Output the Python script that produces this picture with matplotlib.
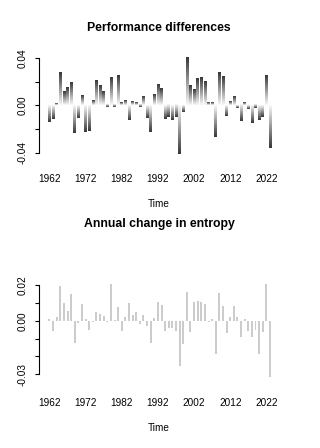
import numpy as np
import matplotlib
matplotlib.use("Agg")
import matplotlib.pyplot as plt

plt.rcParams["font.family"] = ["Liberation Sans", "DejaVu Sans"]

# ---- data ----
years = list(range(1962, 2024))

perf_diff = [
    -0.0139, -0.0116, 0.0010, 0.0272, 0.0110, 0.0150, 0.0190, -0.0230,
    -0.0105, 0.0077, -0.0221, -0.0216, 0.0034, 0.0207, 0.0162, 0.0110,
    -0.0017, 0.0230, -0.0017, 0.0250, 0.0023, 0.0034, -0.0125, 0.0030,
    0.0023, -0.0017, 0.0071, -0.0105, -0.0221, 0.0088, 0.0170, 0.0136,
    -0.0116, -0.0102, -0.0125, -0.0102, -0.0409, -0.0054, 0.0400, 0.0162,
    0.0130, 0.0221, 0.0230, 0.0199, 0.0020, 0.0023, -0.0267, 0.0272,
    0.0238, -0.0088, 0.0031, 0.0068, -0.0023, -0.0136, 0.0020, -0.0031,
    -0.0150, -0.0026, -0.0125, -0.0096, 0.0250, -0.0360,
]

entropy_change = [
    0.0010, -0.0060, 0.0019, 0.0195, 0.0097, 0.0054, 0.0152, -0.0124,
    -0.0015, 0.0094, 0.0009, -0.0050, -0.0006, 0.0050, 0.0037, 0.0028,
    -0.0005, 0.0206, 0.0002, 0.0075, -0.0056, 0.0020, 0.0099, 0.0032,
    0.0047, -0.0020, 0.0032, -0.0028, -0.0124, 0.0015, 0.0103, 0.0090,
    -0.0056, -0.0039, -0.0043, -0.0060, -0.0255, -0.0133, 0.0159, -0.0064,
    0.0105, 0.0109, 0.0105, 0.0092, -0.0007, 0.0007, -0.0185, 0.0154,
    0.0084, -0.0071, 0.0019, 0.0082, 0.0019, -0.0094, 0.0007, -0.0058,
    -0.0094, -0.0050, -0.0189, -0.0062, 0.0204, -0.0318,
]

xtick_years = [1962, 1972, 1982, 1992, 2002, 2012, 2022]

W, H = 320, 448
fig = plt.figure(figsize=(W / 100, H / 100), dpi=100)


def px_axes(left, top, right, bottom):
    return fig.add_axes([left / W, 1 - bottom / H, (right - left) / W, (bottom - top) / H])


def style_axes(ax, yticks, ylabels, ybounds, title, title_pad, tick_pad, xlab_pad):
    for s in ["top", "right", "bottom"]:
        ax.spines[s].set_visible(False)
    ax.spines["left"].set_bounds(*ybounds)
    ax.spines["left"].set_linewidth(0.8)
    ax.set_xlim(1959.1, 2025.5)
    ax.set_xticks(xtick_years)
    ax.set_xticklabels([str(y) for y in xtick_years])
    ax.tick_params(axis="x", length=0, pad=tick_pad, labelsize=7.2)
    ax.set_yticks(yticks)
    ax.set_yticklabels(ylabels, rotation=90, va="center")
    ax.tick_params(axis="y", length=2.9, width=0.8, pad=5.0, labelsize=7.2)
    ax.set_xlabel("Time", fontsize=7.2, labelpad=xlab_pad)
    ax.set_title(title, fontsize=8.8, fontweight="bold", pad=title_pad)


# ---- top: gradient bars (light at zero, dark at the tip) ----
ax1 = px_axes(39, 54, 279, 158)
grad = np.linspace(0.97, 0.22, 64).reshape(-1, 1)   # row 0 = base
w1 = 0.72
for x, v in zip(years, perf_diff):
    if v >= 0:
        img, ext = grad, [x - w1 / 2, x + w1 / 2, 0, v]
    else:
        img, ext = grad[::-1], [x - w1 / 2, x + w1 / 2, v, 0]
    ax1.imshow(img, extent=ext, origin="lower", aspect="auto", cmap="gray",
               vmin=0, vmax=1, interpolation="bilinear")
ax1.set_ylim(-0.0444, 0.0432)
style_axes(ax1, [-0.04, -0.02, 0.0, 0.02, 0.04],
           ["-0.04", "", "0.00", "", "0.04"], (-0.04, 0.04),
           "Performance differences", 16.5, 11.5, 10.5)

# ---- bottom: plain grey bars ----
ax2 = px_axes(39, 280, 279, 381)
ax2.bar(years, entropy_change, width=0.55, color="#cccccc", linewidth=0)
ax2.set_ylim(-0.0339, 0.0229)
style_axes(ax2, [-0.03, -0.02, -0.01, 0.0, 0.01, 0.02],
           ["-0.03", "", "", "0.00", "", "0.02"], (-0.03, 0.02),
           "Annual change in entropy", 38.5, 12.2, 11)

fig.savefig("out.png", dpi=100)
